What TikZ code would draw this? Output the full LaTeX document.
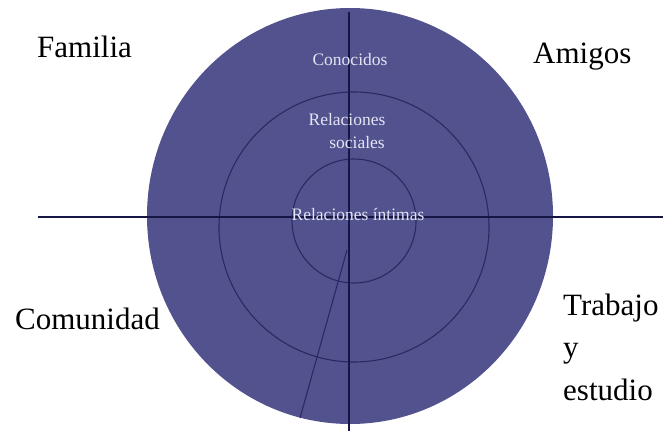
\documentclass[tikz,border=0pt]{standalone}
\usepackage{fontspec}
\setmainfont{Liberation Serif}
\definecolor{discfill}{RGB}{82,82,142}
\definecolor{discline}{RGB}{22,22,68}
\definecolor{discring}{RGB}{42,42,98}
\definecolor{disctext}{RGB}{228,228,244}
\tikzset{
	outlabel/.style={anchor=base west,inner sep=0pt,font=\fontsize{31}{38}\selectfont},
	inlabel/.style={anchor=base,inner sep=0pt,text=disctext,font=\fontsize{17.5}{20}\selectfont},
	ring/.style={draw=discring,line width=1.1pt}
}
\begin{document}
\begin{tikzpicture}[x=1pt,y=-1pt]
		\useasboundingbox (0,0) rectangle (663,431);
		\fill[discfill] (350,216) ellipse [x radius=203,y radius=208];
		\draw[ring] (354,227) circle [radius=135];
		\draw[ring] (354,221) circle [radius=62];
		\draw[discline,line width=1.8pt] (38,217)--(663,217) (349,12)--(349,431);
		\draw[ring] (347,250)--(300,418);
		\node[inlabel,name=conocidos] at (350,65) {Conocidos};
		\node[inlabel,name=relaciones] at (347,125) {Relaciones};
		\node[inlabel,name=sociales] at (357,148) {sociales};
		\node[inlabel,name=intimas] at (358,220) {Relaciones íntimas};
		\node[outlabel,name=familia] at (37,57) {Familia};
		\node[outlabel,name=amigos] at (533,63) {Amigos};
		\node[outlabel,name=comunidad] at (15,329) {Comunidad};
		\node[outlabel,name=trabajo] at (563,315) {Trabajo};
		\node[outlabel,name=yconj] at (563,357) {y};
		\node[outlabel,name=estudio] at (563,400) {estudio};
	\end{tikzpicture}
\end{document}
